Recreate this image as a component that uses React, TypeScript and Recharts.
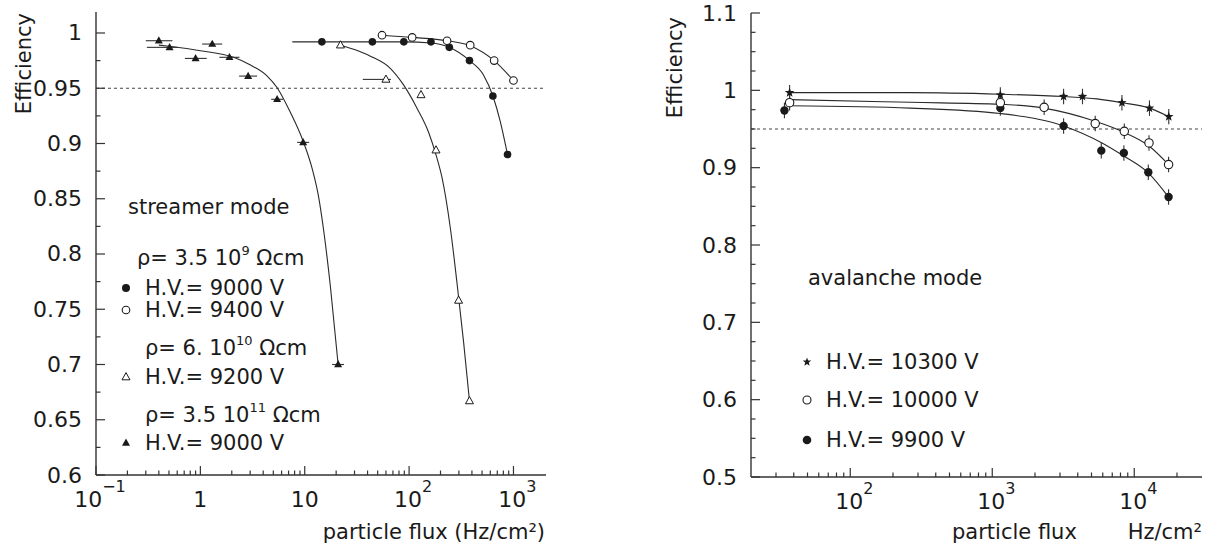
import React from 'react';
import { ComposedChart, Line, Scatter, XAxis, YAxis, ReferenceLine, ErrorBar } from 'recharts';

const FONT = '"DejaVu Sans", "Liberation Sans", sans-serif';
const INK = '#1a1a1a';
const AXIS = '#333';
const FRAME = '#777';
const CURVE = '#2a2a2a';

// ---------------- Left panel: streamer mode ----------------
const leftXMajorTicks = [0.1, 1, 10, 100, 1000];
const leftXMinorTicks = [0.2, 0.3, 0.4, 0.5, 0.6, 0.7, 0.8, 0.9, 2, 3, 4, 5, 6, 7, 8, 9, 20, 30, 40, 50, 60, 70, 80, 90, 200, 300, 400, 500, 600, 700, 800, 900];
const leftYMajorTicks = [0.6, 0.65, 0.7, 0.75, 0.8, 0.85, 0.9, 0.95, 1];
const leftYMinorTicks = [0.625, 0.675, 0.725, 0.775, 0.825, 0.875, 0.925, 0.975];
const leftXDomain = [0.1, 2050];
const leftYDomain = [0.6, 1.019];
const efficiencyCut = 0.95;

// rho = 3.5e9 Ohm cm, HV = 9000 V (filled circles)
const rho9Hv9000 = [
  { x: 14.6, y: 0.992 }, { x: 44.5, y: 0.992 }, { x: 89, y: 0.992 }, { x: 162, y: 0.992 },
  { x: 243, y: 0.987 }, { x: 379, y: 0.975 }, { x: 635, y: 0.943 }, { x: 877, y: 0.89 },
];
const rho9Hv9000Fit = [
  { x: 7.6, y: 0.992 }, { x: 44, y: 0.992 }, { x: 90, y: 0.992 }, { x: 162, y: 0.991 },
  { x: 243, y: 0.987 }, { x: 379, y: 0.975 }, { x: 516, y: 0.962 }, { x: 635, y: 0.943 },
  { x: 747, y: 0.92 }, { x: 877, y: 0.89 },
];
// rho = 3.5e9 Ohm cm, HV = 9400 V (open circles)
const rho9Hv9400 = [
  { x: 55, y: 0.998 }, { x: 107, y: 0.996 }, { x: 231, y: 0.993 }, { x: 385, y: 0.989 },
  { x: 653, y: 0.975 }, { x: 1000, y: 0.957 },
];
const rho9Hv9400Fit = [
  { x: 55, y: 0.998 }, { x: 107, y: 0.996 }, { x: 231, y: 0.993 }, { x: 385, y: 0.9885 },
  { x: 653, y: 0.975 }, { x: 1000, y: 0.957 },
];
// rho = 6e10 Ohm cm, HV = 9200 V (open triangles)
const rho10Hv9200 = [
  { x: 22, y: 0.989, ex: [0, 0] }, { x: 60, y: 0.958, ex: [24, 7] }, { x: 130, y: 0.944, ex: [0, 0] },
  { x: 181, y: 0.894, ex: [0, 0] }, { x: 298, y: 0.758, ex: [0, 0] }, { x: 379, y: 0.667, ex: [0, 0] },
];
const rho10Hv9200Fit = [
  { x: 22, y: 0.989 }, { x: 30, y: 0.985 }, { x: 42.6, y: 0.979 }, { x: 66, y: 0.968 },
  { x: 88.5, y: 0.953 }, { x: 119, y: 0.932 }, { x: 154, y: 0.91 }, { x: 182, y: 0.889 },
  { x: 208, y: 0.868 }, { x: 248, y: 0.824 }, { x: 298, y: 0.761 }, { x: 333, y: 0.72 },
  { x: 379, y: 0.667 },
];
// rho = 3.5e11 Ohm cm, HV = 9000 V (filled triangles)
const rho11Hv9000 = [
  { x: 0.4, y: 0.993, ex: [0.1, 0.14] }, { x: 0.507, y: 0.987, ex: [0.2, 0.1] },
  { x: 0.9, y: 0.977, ex: [0.19, 0.25] }, { x: 1.3, y: 0.99, ex: [0.26, 0.32] },
  { x: 1.9, y: 0.978, ex: [0.38, 0.47] }, { x: 2.87, y: 0.961, ex: [0.52, 0.63] },
  { x: 5.44, y: 0.94, ex: [0.67, 0.76] }, { x: 9.66, y: 0.901, ex: [1.2, 1.35] },
  { x: 20.9, y: 0.7, ex: [2.6, 2.9] },
];
const rho11Hv9000Fit = [
  { x: 0.4, y: 0.989 }, { x: 0.5, y: 0.988 }, { x: 1.0, y: 0.984 }, { x: 2.08, y: 0.978 },
  { x: 3.02, y: 0.971 }, { x: 4.37, y: 0.961 }, { x: 5.44, y: 0.9505 }, { x: 7.3, y: 0.928 },
  { x: 9.66, y: 0.902 }, { x: 11.8, y: 0.877 }, { x: 13.5, y: 0.853 }, { x: 15.4, y: 0.817 },
  { x: 17.6, y: 0.771 }, { x: 20.9, y: 0.7 },
];

// ---------------- Right panel: avalanche mode ----------------
const rightXMajorTicks = [100, 1000, 10000];
const rightXMinorTicks = [30, 40, 50, 60, 70, 80, 90, 200, 300, 400, 500, 600, 700, 800, 900, 2000, 3000, 4000, 5000, 6000, 7000, 8000, 9000, 20000];
const rightYMajorTicks = [0.5, 0.6, 0.7, 0.8, 0.9, 1, 1.1];
const rightYMinorTicks = [0.525, 0.55, 0.575, 0.625, 0.65, 0.675, 0.725, 0.75, 0.775, 0.825, 0.85, 0.875, 0.925, 0.95, 0.975, 1.025, 1.05, 1.075];
const rightXDomain = [20, 30000];
const rightYDomain = [0.5, 1.1];

const hv10300 = [
  { x: 37.4, y: 0.997, ey: 0.01 }, { x: 1140, y: 0.994, ey: 0.01 }, { x: 3180, y: 0.992, ey: 0.01 },
  { x: 4320, y: 0.992, ey: 0.01 }, { x: 8190, y: 0.984, ey: 0.01 }, { x: 12800, y: 0.977, ey: 0.01 },
  { x: 17500, y: 0.966, ey: 0.01 },
];
const hv10300Fit = [
  { x: 37.4, y: 0.997 }, { x: 265, y: 0.997 }, { x: 1140, y: 0.995 }, { x: 3180, y: 0.992 },
  { x: 5460, y: 0.989 }, { x: 8190, y: 0.984 }, { x: 12800, y: 0.977 }, { x: 17500, y: 0.966 },
];
const hv10000 = [
  { x: 37.4, y: 0.984, ey: 0.01 }, { x: 1140, y: 0.984, ey: 0.01 }, { x: 2320, y: 0.978, ey: 0.01 },
  { x: 5310, y: 0.957, ey: 0.01 }, { x: 8510, y: 0.947, ey: 0.01 }, { x: 12700, y: 0.932, ey: 0.01 },
  { x: 17450, y: 0.904, ey: 0.01 },
];
const hv10000Fit = [
  { x: 37.4, y: 0.988 }, { x: 265, y: 0.9845 }, { x: 1140, y: 0.982 }, { x: 2300, y: 0.977 },
  { x: 5310, y: 0.96 }, { x: 8400, y: 0.946 }, { x: 12700, y: 0.928 }, { x: 17450, y: 0.904 },
];
const hv9900 = [
  { x: 34.4, y: 0.974, ey: 0.01 }, { x: 1140, y: 0.977, ey: 0.01 }, { x: 3180, y: 0.954, ey: 0.01 },
  { x: 5860, y: 0.922, ey: 0.01 }, { x: 8450, y: 0.919, ey: 0.01 }, { x: 12560, y: 0.894, ey: 0.01 },
  { x: 17450, y: 0.862, ey: 0.01 },
];
const hv9900Fit = [
  { x: 37.4, y: 0.98 }, { x: 265, y: 0.977 }, { x: 1140, y: 0.97 }, { x: 3180, y: 0.954 },
  { x: 5930, y: 0.932 }, { x: 8450, y: 0.915 }, { x: 12600, y: 0.893 }, { x: 17450, y: 0.862 },
];

const sortNum = (a: number[]) => [...a].sort((p, q) => p - q);

// chart layout (pixels)
const L_W = 600, L_MARGIN = { top: 12, right: 54, bottom: 0, left: 16 }, L_YW = 80, L_XH = 71;
const R_W = 570, R_MARGIN = { top: 13, right: 8, bottom: 0, left: 31 }, R_YW = 80, R_XH = 69;
const H = 546;

// ---------------- marker shapes ----------------
const FilledCircle = ({ cx, cy, r = 4 }: any) => <circle cx={cx} cy={cy} r={r} fill={INK} />;
const OpenCircle = ({ cx, cy, r = 3.8 }: any) => (
  <circle cx={cx} cy={cy} r={r} fill="#fff" stroke={INK} strokeWidth={1.1} />
);
const triPts = (cx: number, cy: number, w: number) =>
  `${cx},${cy - w * 1.1} ${cx - w},${cy + w * 0.7} ${cx + w},${cy + w * 0.7}`;
const OpenTriangle = ({ cx, cy, w = 4 }: any) => (
  <polygon points={triPts(cx, cy, w)} fill="#fff" stroke={INK} strokeWidth={1} />
);
const FilledTriangle = ({ cx, cy, w = 4 }: any) => <polygon points={triPts(cx, cy, w)} fill={INK} />;
const Star = ({ cx, cy, R = 5, r = 2.1 }: any) => {
  const pts: string[] = [];
  for (let i = 0; i < 10; i++) {
    const a = -Math.PI / 2 + (i * Math.PI) / 5;
    const rad = i % 2 === 0 ? R : r;
    pts.push(`${cx + rad * Math.cos(a)},${cy + rad * Math.sin(a)}`);
  }
  return <polygon points={pts.join(' ')} fill={INK} />;
};

// ---------------- ticks ----------------
const LogLabel = ({ x, y, v }: any) => {
  const e = Math.round(Math.log10(v));
  if (e === 0)
    return <text x={x} y={y} textAnchor="middle" fontSize={22} fill={INK} fontFamily={FONT}>1</text>;
  if (e === 1)
    return <text x={x} y={y} textAnchor="middle" fontSize={22} fill={INK} fontFamily={FONT}>10</text>;
  return (
    <text x={x + 4} y={y} textAnchor="middle" fontSize={22} fill={INK} fontFamily={FONT}>
      <tspan>10</tspan>
      <tspan dy={-15} fontSize={16}>{e < 0 ? '\u2212' + -e : String(e)}</tspan>
    </text>
  );
};

// ticks point into the plot from the axis line (axisY / axisX = axis line position)
const XTick = ({ x, payload, majors, axisY }: any) => {
  const v = payload.value;
  const major = majors.includes(v);
  return (
    <g>
      <path d={`M${x},${axisY}V${axisY - (major ? 9 : 4.5)}`} stroke={AXIS} strokeWidth={1.2} fill="none" />
      {major && <LogLabel x={x} y={axisY + 32} v={v} />}
    </g>
  );
};

const YTick = ({ y, payload, majors, axisX }: any) => {
  const v = payload.value;
  const major = majors.includes(v);
  return (
    <g>
      <path d={`M${axisX},${y}H${axisX + (major ? 9 : 4.5)}`} stroke={AXIS} strokeWidth={1.2} fill="none" />
      {major && (
        <text x={axisX - 14} y={y} textAnchor="end" dominantBaseline="central" fontSize={22} fill={INK} fontFamily={FONT}>
          {String(v)}
        </text>
      )}
    </g>
  );
};

export default function App() {
  const leftXTicks = sortNum([...leftXMajorTicks, ...leftXMinorTicks]);
  const leftYTicks = sortNum([...leftYMajorTicks, ...leftYMinorTicks]);
  const rightXTicks = sortNum([...rightXMajorTicks, ...rightXMinorTicks]);
  const rightYTicks = sortNum([...rightYMajorTicks, ...rightYMinorTicks]);

  const lAxisY = H - L_MARGIN.bottom - L_XH;
  const lAxisX = L_MARGIN.left + L_YW;
  const rAxisY = H - R_MARGIN.bottom - R_XH;
  const rAxisX = R_MARGIN.left + R_YW;

  const lineProps = {
    dataKey: 'y',
    dot: false,
    activeDot: false,
    stroke: CURVE,
    strokeWidth: 1.1,
    type: 'monotone' as const,
    isAnimationActive: false,
    legendType: 'none' as const,
  };

  const txt = { fontFamily: FONT, fontSize: 21, fill: INK };

  return (
    <div style={{ position: 'absolute', left: 0, top: 0, width: 1210, height: 546, background: '#fff', fontFamily: FONT }}>
      <div style={{ position: 'absolute', left: 0, top: 0 }}>
        <ComposedChart width={L_W} height={H} margin={L_MARGIN}>
          <XAxis
            dataKey="x" type="number" scale="log" domain={leftXDomain} allowDataOverflow
            ticks={leftXTicks} interval={0} height={L_XH} tickSize={0} tickMargin={0} tickLine={false}
            axisLine={{ stroke: AXIS, strokeWidth: 1.4 }}
            tick={(p: any) => <XTick {...p} majors={leftXMajorTicks} axisY={lAxisY} />}
          />
          <YAxis
            dataKey="y" type="number" domain={leftYDomain} allowDataOverflow
            ticks={leftYTicks} interval={0} width={L_YW} tickSize={0} tickMargin={0} tickLine={false}
            axisLine={{ stroke: AXIS, strokeWidth: 1.4 }}
            tick={(p: any) => <YTick {...p} majors={leftYMajorTicks} axisX={lAxisX} />}
          />
          <XAxis xAxisId="t" orientation="top" type="number" domain={[0, 1]} height={0} tick={false} tickLine={false} axisLine={{ stroke: FRAME, strokeWidth: 1.3 }} />
          <YAxis yAxisId="r" orientation="right" type="number" domain={[0, 1]} width={0} tick={false} tickLine={false} axisLine={{ stroke: FRAME, strokeWidth: 1.3 }} />
          <ReferenceLine y={efficiencyCut} stroke="#444" strokeWidth={1.1} strokeDasharray="3 3" />
          <Line data={rho11Hv9000Fit} {...lineProps} />
          <Line data={rho10Hv9200Fit} {...lineProps} />
          <Line data={rho9Hv9000Fit} {...lineProps} />
          <Line data={rho9Hv9400Fit} {...lineProps} />
          <Scatter data={rho11Hv9000} dataKey="y" isAnimationActive={false} shape={(p: any) => <FilledTriangle cx={p.cx} cy={p.cy} />}>
            <ErrorBar dataKey="ex" direction="x" width={0} stroke={AXIS} strokeWidth={1.1} />
          </Scatter>
          <Scatter data={rho10Hv9200} dataKey="y" isAnimationActive={false} shape={(p: any) => <OpenTriangle cx={p.cx} cy={p.cy} />}>
            <ErrorBar dataKey="ex" direction="x" width={0} stroke={AXIS} strokeWidth={1.1} />
          </Scatter>
          <Scatter data={rho9Hv9000} dataKey="y" isAnimationActive={false} shape={(p: any) => <FilledCircle cx={p.cx} cy={p.cy} r={3.8} />} />
          <Scatter data={rho9Hv9400} dataKey="y" isAnimationActive={false} shape={(p: any) => <OpenCircle cx={p.cx} cy={p.cy} />} />
        </ComposedChart>
      </div>

      <div style={{ position: 'absolute', left: 640, top: 0 }}>
        <ComposedChart width={R_W} height={H} margin={R_MARGIN}>
          <XAxis
            dataKey="x" type="number" scale="log" domain={rightXDomain} allowDataOverflow
            ticks={rightXTicks} interval={0} height={R_XH} tickSize={0} tickMargin={0} tickLine={false}
            axisLine={{ stroke: AXIS, strokeWidth: 1.4 }}
            tick={(p: any) => <XTick {...p} majors={rightXMajorTicks} axisY={rAxisY} />}
          />
          <YAxis
            dataKey="y" type="number" domain={rightYDomain} allowDataOverflow
            ticks={rightYTicks} interval={0} width={R_YW} tickSize={0} tickMargin={0} tickLine={false}
            axisLine={{ stroke: AXIS, strokeWidth: 1.4 }}
            tick={(p: any) => <YTick {...p} majors={rightYMajorTicks} axisX={rAxisX} />}
          />
          <XAxis xAxisId="t" orientation="top" type="number" domain={[0, 1]} height={0} tick={false} tickLine={false} axisLine={{ stroke: FRAME, strokeWidth: 1.3 }} />
          <YAxis yAxisId="r" orientation="right" type="number" domain={[0, 1]} width={0} tick={false} tickLine={false} axisLine={{ stroke: FRAME, strokeWidth: 1.3 }} />
          <ReferenceLine y={efficiencyCut} stroke="#444" strokeWidth={1.1} strokeDasharray="3 3" />
          <Line data={hv10300Fit} {...lineProps} />
          <Line data={hv10000Fit} {...lineProps} />
          <Line data={hv9900Fit} {...lineProps} />
          <Scatter data={hv9900} dataKey="y" isAnimationActive={false} shape={(p: any) => <FilledCircle cx={p.cx} cy={p.cy} r={4.2} />}>
            <ErrorBar dataKey="ey" direction="y" width={0} stroke={AXIS} strokeWidth={1.1} />
          </Scatter>
          <Scatter data={hv10000} dataKey="y" isAnimationActive={false} shape={(p: any) => <OpenCircle cx={p.cx} cy={p.cy} r={4.2} />}>
            <ErrorBar dataKey="ey" direction="y" width={0} stroke={AXIS} strokeWidth={1.1} />
          </Scatter>
          <Scatter data={hv10300} dataKey="y" isAnimationActive={false} shape={(p: any) => <Star cx={p.cx} cy={p.cy} />}>
            <ErrorBar dataKey="ey" direction="y" width={0} stroke={AXIS} strokeWidth={1.1} />
          </Scatter>
        </ComposedChart>
      </div>

      <svg width={1210} height={546} style={{ position: 'absolute', left: 0, top: 0, pointerEvents: 'none' }}>
        {/* axis titles */}
        <text x={24} y={13} transform="rotate(-90 24 13)" textAnchor="end" dominantBaseline="central" {...txt}>Efficiency</text>
        <text x={675} y={17} transform="rotate(-90 675 17)" textAnchor="end" dominantBaseline="central" {...txt}>Efficiency</text>
        <text x={545} y={539} textAnchor="end" {...txt}>particle flux (Hz/cm²)</text>
        <text x={952} y={539} textAnchor="start" {...txt}>particle flux</text>
        <text x={1202} y={539} textAnchor="end" {...txt}>Hz/cm²</text>

        {/* left annotations */}
        <text x={128} y={207} dominantBaseline="central" {...txt}>streamer mode</text>
        <text x={137} y={258} dominantBaseline="central" {...txt}>
          ρ= 3.5 10<tspan dy={-8} fontSize={13}>9</tspan><tspan dy={8}> Ωcm</tspan>
        </text>
        <FilledCircle cx={126} cy={288} r={4} />
        <text x={145} y={288} dominantBaseline="central" {...txt}>H.V.= 9000 V</text>
        <OpenCircle cx={126} cy={310} r={3.8} />
        <text x={145} y={310} dominantBaseline="central" {...txt}>H.V.= 9400 V</text>
        <text x={145} y={348} dominantBaseline="central" {...txt}>
          ρ= 6. 10<tspan dy={-8} fontSize={13}>10</tspan><tspan dy={8}> Ωcm</tspan>
        </text>
        <OpenTriangle cx={126} cy={377} />
        <text x={145} y={377} dominantBaseline="central" {...txt}>H.V.= 9200 V</text>
        <text x={145} y={415} dominantBaseline="central" {...txt}>
          ρ= 3.5 10<tspan dy={-8} fontSize={13}>11</tspan><tspan dy={8}> Ωcm</tspan>
        </text>
        <FilledTriangle cx={126} cy={443} />
        <text x={145} y={443} dominantBaseline="central" {...txt}>H.V.= 9000 V</text>

        {/* right annotations */}
        <text x={808} y={278} dominantBaseline="central" {...txt}>avalanche mode</text>
        <Star cx={807} cy={362} R={4.5} r={1.9} />
        <text x={826} y={362} dominantBaseline="central" {...txt}>H.V.= 10300 V</text>
        <OpenCircle cx={807} cy={400} r={4} />
        <text x={826} y={400} dominantBaseline="central" {...txt}>H.V.= 10000 V</text>
        <FilledCircle cx={807} cy={440} r={4.3} />
        <text x={826} y={440} dominantBaseline="central" {...txt}>H.V.= 9900 V</text>
      </svg>
    </div>
  );
}
